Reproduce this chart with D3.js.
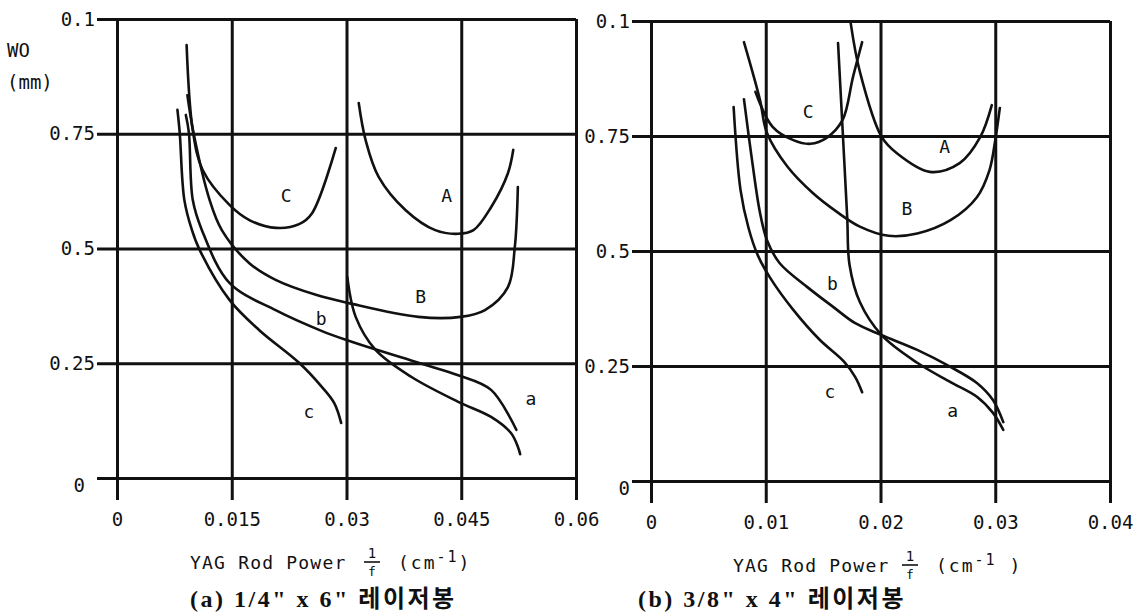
<!DOCTYPE html>
<html>
<head>
<meta charset="utf-8">
<script src="https://cdn.jsdelivr.net/npm/d3@7"></script>
<style>
  body { margin: 0; background: #fff; }
  text { fill: #111; }
</style>
</head>
<body>
<div id="chart"></div>
<script>
// y axis (shared by both panels); the top label really reads "0.1" in the original
const wTicks = [0, 0.25, 0.5, 0.75, 1];
const wTickLabels = ["0", "0.25", "0.5", "0.75", "0.1"];

// panel (a) 1/4" x 6"
const aPowerTicks = [0, 0.015, 0.03, 0.045, 0.06];
const aPowerLabels = ["0", "0.015", "0.03", "0.045", "0.06"];
const aCurveC = [[0.0091,0.943],[0.0099,0.758],[0.0112,0.671],[0.0147,0.595],[0.0173,0.562],[0.0208,0.545],[0.0238,0.553],[0.0255,0.577],[0.0286,0.719]];
const aCurveA = [[0.0316,0.817],[0.0325,0.736],[0.0342,0.656],[0.0377,0.584],[0.0416,0.540],[0.0446,0.532],[0.0466,0.540],[0.0489,0.590],[0.0511,0.664],[0.0518,0.715]];
const aCurveB = [[0.0092,0.834],[0.0100,0.752],[0.0121,0.606],[0.0137,0.540],[0.0173,0.468],[0.0208,0.431],[0.0260,0.399],[0.0303,0.381],[0.0394,0.351],[0.0449,0.351],[0.0481,0.366],[0.0511,0.416],[0.0520,0.503],[0.0524,0.634]];
const aCurveb = [[0.0090,0.791],[0.0094,0.752],[0.0099,0.606],[0.0111,0.540],[0.0147,0.425],[0.0208,0.365],[0.0268,0.320],[0.0301,0.300],[0.0394,0.251],[0.0446,0.224],[0.0489,0.192],[0.0522,0.105]];
const aCurvec = [[0.0079,0.802],[0.0082,0.752],[0.0088,0.606],[0.0098,0.540],[0.0108,0.497],[0.0147,0.388],[0.0186,0.322],[0.0238,0.251],[0.0268,0.198],[0.0284,0.163],[0.0293,0.120]];
const aCurvea = [[0.0301,0.438],[0.0312,0.351],[0.0338,0.279],[0.0385,0.220],[0.0446,0.166],[0.0489,0.133],[0.0515,0.098],[0.0524,0.068],[0.0527,0.052]];
const aCurveNames = ["C", "A", "B", "b", "c", "a"];
const aLabelAt = [[0.0221,0.612],[0.0431,0.612],[0.0397,0.392],[0.0267,0.344],[0.0251,0.142],[0.0541,0.170]];

// panel (b) 3/8" x 4"
const bPowerTicks = [0, 0.01, 0.02, 0.03, 0.04];
const bPowerLabels = ["0", "0.01", "0.02", "0.03", "0.04"];
const bCurveC = [[0.0091,0.846],[0.0106,0.770],[0.0124,0.741],[0.0139,0.733],[0.0153,0.746],[0.0167,0.785],[0.0176,0.878],[0.0184,0.954]];
const bCurveA = [[0.0174,0.996],[0.0182,0.890],[0.0201,0.748],[0.0214,0.713],[0.0243,0.672],[0.0269,0.691],[0.0287,0.748],[0.0297,0.817]];
const bCurveB = [[0.0081,0.954],[0.0095,0.828],[0.0101,0.757],[0.0119,0.683],[0.0141,0.626],[0.0162,0.585],[0.0182,0.553],[0.0207,0.533],[0.0232,0.538],[0.0261,0.567],[0.0284,0.617],[0.0295,0.676],[0.0300,0.741],[0.0304,0.811]];
const bCurveb = [[0.0081,0.830],[0.0088,0.698],[0.0095,0.583],[0.0101,0.524],[0.0112,0.474],[0.0136,0.422],[0.0159,0.378],[0.0178,0.343],[0.0201,0.317],[0.0232,0.285],[0.0261,0.248],[0.0284,0.213],[0.0298,0.176],[0.0307,0.128]];
const bCurvec = [[0.0072,0.813],[0.0078,0.633],[0.0085,0.550],[0.0093,0.491],[0.0104,0.441],[0.0124,0.372],[0.0147,0.307],[0.0168,0.260],[0.0178,0.226],[0.0184,0.193]];
const bCurvea = [[0.0163,0.952],[0.0167,0.763],[0.0171,0.572],[0.0173,0.470],[0.0182,0.389],[0.0201,0.317],[0.0232,0.257],[0.0261,0.215],[0.0284,0.183],[0.0298,0.148],[0.0307,0.111]];
const bCurveNames = ["C", "A", "B", "b", "c", "a"];
const bLabelAt = [[0.0137,0.800],[0.0256,0.724],[0.0223,0.589],[0.0158,0.426],[0.0156,0.191],[0.0263,0.150]];

const width = 1146;
const height = 615;
const mono = "'DejaVu Sans Mono', monospace";

const svg = d3.select("#chart")
  .append("svg")
  .attr("width", width)
  .attr("height", height);

function drawPanel(p) {
  const x = d3.scaleLinear().domain(p.xDomain).range([p.left, p.right]);
  const y = d3.scaleLinear().domain([0, 1]).range([p.bottom, p.top]);
  const g = svg.append("g");

  // vertical grid + ticks below the zero line
  const xAxis = d3.axisBottom(x)
    .tickValues(p.xTicks)
    .tickFormat((d, i) => p.xLabels[i])
    .tickSize(p.bottom - p.top + 22)
    .tickSizeOuter(0)
    .tickPadding(13);
  const gx = g.append("g").attr("transform", `translate(0,${p.top})`).call(xAxis);
  gx.select(".domain").remove();
  gx.selectAll("line").attr("stroke", "#111").attr("stroke-width", 3);
  gx.selectAll("text").style("font-family", mono).style("font-size", "19px").attr("fill", "#111");

  // horizontal grid, running left past the axis up to the labels
  const yAxis = d3.axisLeft(y)
    .tickValues(wTicks)
    .tickFormat((d, i) => wTickLabels[i])
    .tickSize(p.right - p.labelEdge)
    .tickSizeOuter(0)
    .tickPadding(2);
  const gy = g.append("g").attr("transform", `translate(${p.right},0)`).call(yAxis);
  gy.select(".domain").remove();
  gy.selectAll("line").attr("stroke", "#111").attr("stroke-width", 3);
  gy.selectAll("text")
    .style("font-family", mono).style("font-size", "19px").attr("fill", "#111")
    .attr("dy", (d) => (d === 0 ? "0.72em" : "0.32em"))
    .attr("dx", (d) => (d === 0 ? p.zeroShift : 0));

  const line = d3.line()
    .x((d) => x(d[0]))
    .y((d) => y(d[1]))
    .curve(d3.curveCatmullRom.alpha(0.5));

  g.append("g")
    .selectAll("path")
    .data(p.curves)
    .join("path")
    .attr("d", line)
    .attr("fill", "none")
    .attr("stroke", "#111")
    .attr("stroke-width", 2.6)
    .attr("stroke-linecap", "round");

  g.append("g")
    .selectAll("text")
    .data(p.names)
    .join("text")
    .attr("x", (d, i) => x(p.labelAt[i][0]))
    .attr("y", (d, i) => y(p.labelAt[i][1]))
    .attr("text-anchor", "middle")
    .attr("dominant-baseline", "middle")
    .style("font-family", mono)
    .style("font-size", "18px")
    .text((d) => d);

  // axis title: YAG Rod Power 1/f (cm-1)
  const ty = p.bottom + 91;
  const t = g.append("g").style("font-family", mono).style("font-size", "18px");
  t.append("text")
    .attr("x", p.titleX).attr("y", ty)
    .attr("letter-spacing", "1.2px")
    .text("YAG Rod Power");
  const fx = p.titleX + p.fracOffset;
  t.append("text").attr("x", fx).attr("y", ty - 11).attr("text-anchor", "middle")
    .style("font-size", "14px").text("1");
  t.append("line").attr("x1", fx - 8).attr("x2", fx + 8).attr("y1", ty - 7).attr("y2", ty - 7)
    .attr("stroke", "#111").attr("stroke-width", 1.6);
  t.append("text").attr("x", fx).attr("y", ty + 7).attr("text-anchor", "middle")
    .style("font-size", "13px").text("f");
  const unit = t.append("text").attr("x", fx + 26).attr("y", ty).attr("letter-spacing", "2px");
  unit.append("tspan").text("(cm");
  unit.append("tspan").attr("dy", -7).style("font-size", "15px").text("-1");
  unit.append("tspan").attr("dy", 7).text(p.unitClose);

  // panel caption
  g.append("text")
    .attr("x", p.captionX).attr("y", 607)
    .attr("letter-spacing", "2.5px")
    .style("font-family", "'Liberation Serif', 'Noto Sans CJK KR', serif")
    .style("font-weight", "bold")
    .style("font-size", "24px")
    .text(p.caption);
}

drawPanel({
  xDomain: [0, 0.06], left: 117, right: 576, top: 19, bottom: 478, labelEdge: 97,
  xTicks: aPowerTicks, xLabels: aPowerLabels,
  curves: [aCurveC, aCurveA, aCurveB, aCurveb, aCurvec, aCurvea],
  names: aCurveNames, labelAt: aLabelAt, zeroShift: -10,
  titleX: 190, fracOffset: 182, unitClose: ")", captionX: 190,
  caption: "(a) 1/4\" x 6\" 레이저봉"
});

drawPanel({
  xDomain: [0, 0.04], left: 651, right: 1110, top: 21, bottom: 481, labelEdge: 632,
  xTicks: bPowerTicks, xLabels: bPowerLabels,
  curves: [bCurveC, bCurveA, bCurveB, bCurveb, bCurvec, bCurvea],
  names: bCurveNames, labelAt: bLabelAt, zeroShift: 0,
  titleX: 733, fracOffset: 177, unitClose: " )", captionX: 638,
  caption: "(b) 3/8\" x 4\" 레이저봉"
});

// y axis title
const yt = svg.append("g").style("font-family", mono).style("font-size", "19px");
yt.append("text").attr("x", 7).attr("y", 57).text("WO");
yt.append("text").attr("x", 7).attr("y", 89).text("(mm)");
</script>
</body>
</html>
